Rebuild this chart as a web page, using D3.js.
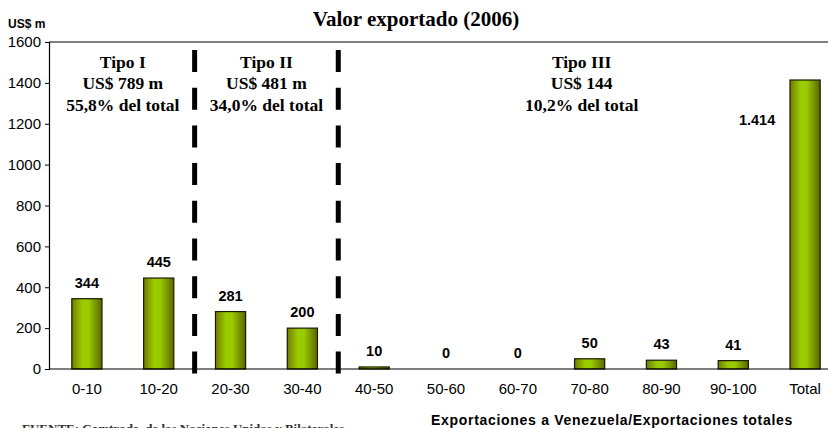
<!DOCTYPE html>
<html lang="es">
<head>
<meta charset="utf-8">
<title>Valor exportado (2006)</title>
<script src="https://cdn.jsdelivr.net/npm/d3@7"></script>
<style>
  body { margin: 0; background: #fff; }
  svg { display: block; }
  .serif { font-family: "Liberation Serif", "DejaVu Serif", serif; font-weight: bold; }
  .sans { font-family: "Liberation Sans", Arial, sans-serif; }
</style>
</head>
<body>
<script>
// data
var categories = ["0-10", "10-20", "20-30", "30-40", "40-50", "50-60", "60-70", "70-80", "80-90", "90-100", "Total"];
var values = [344, 445, 281, 200, 10, 0, 0, 50, 43, 41, 1414];
var valueLabels = ["344", "445", "281", "200", "10", "0", "0", "50", "43", "41", "1.414"];
var yTicks = [0, 200, 400, 600, 800, 1000, 1200, 1400, 1600];
var groups = [
  { from: "0-10", to: "10-20", lines: ["Tipo I", "US$ 789 m", "55,8% del total"] },
  { from: "20-30", to: "30-40", lines: ["Tipo II", "US$ 481 m", "34,0% del total"] },
  { from: "60-70", to: "80-90", lines: ["Tipo III", "US$ 144", "10,2% del total"] }
];
var dividers = ["20-30", "40-50"];

var width = 828, height = 428;
var svg = d3.select("body").append("svg").attr("width", width).attr("height", height);

var x = d3.scaleBand().domain(categories).range([51, 841]).paddingInner(0.58).paddingOuter(0.29);
var y = d3.scaleLinear().domain([0, 1600]).range([369, 42]);

var grad = svg.append("defs").append("linearGradient").attr("id", "barGrad")
  .attr("x1", "0%").attr("x2", "100%").attr("y1", "0%").attr("y2", "0%");
grad.append("stop").attr("offset", "0%").attr("stop-color", "#6f7d00");
grad.append("stop").attr("offset", "35%").attr("stop-color", "#9acc00");
grad.append("stop").attr("offset", "55%").attr("stop-color", "#99cc00");
grad.append("stop").attr("offset", "100%").attr("stop-color", "#5b6600");

// title
svg.append("text").attr("class", "serif").attr("x", 416).attr("y", 26)
  .attr("text-anchor", "middle").attr("font-size", 21).text("Valor exportado (2006)");
svg.append("text").attr("class", "sans").attr("x", 8).attr("y", 28)
  .attr("font-size", 12).attr("font-weight", "bold").text("US$ m");

// top border
svg.append("line").attr("x1", 49).attr("x2", width).attr("y1", y(1600)).attr("y2", y(1600))
  .attr("stroke", "#000").attr("stroke-width", 1.2);

// y axis
var yAxis = svg.append("g").attr("transform", "translate(49,0)")
  .call(d3.axisLeft(y).tickValues(yTicks).tickSize(4).tickPadding(4).tickFormat(d3.format("d")));
yAxis.select(".domain").attr("stroke", "#000").attr("stroke-width", 1.2);
yAxis.selectAll("text").attr("class", "sans").attr("font-size", 15).attr("fill", "#000");

// bars
svg.selectAll("rect.bar").data(categories).enter().append("rect")
  .attr("class", "bar")
  .attr("x", function(d) { return x(d); })
  .attr("width", x.bandwidth())
  .attr("y", function(d, i) { return y(values[i]); })
  .attr("height", function(d, i) { return y(0) - y(values[i]); })
  .attr("fill", "url(#barGrad)")
  .attr("stroke", "#1a1a00").attr("stroke-width", 1.2);

// value labels
svg.selectAll("text.val").data(categories).enter().append("text")
  .attr("class", "val sans")
  .attr("font-size", 14.5).attr("font-weight", "bold").attr("text-anchor", "middle")
  .attr("x", function(d) { return d === "Total" ? x(d) + x.bandwidth() / 2 - 48 : x(d) + x.bandwidth() / 2; })
  .attr("y", function(d, i) { return d === "Total" ? y(values[i]) + 45 : y(values[i]) - 11; })
  .text(function(d, i) { return valueLabels[i]; });

// x axis
svg.append("line").attr("x1", 49).attr("x2", width).attr("y1", y(0)).attr("y2", y(0))
  .attr("stroke", "#000").attr("stroke-width", 1.2);
svg.selectAll("text.cat").data(categories).enter().append("text")
  .attr("class", "cat sans").attr("font-size", 15).attr("text-anchor", "middle")
  .attr("x", function(d) { return x(d) + x.bandwidth() / 2; })
  .attr("y", 394).text(function(d) { return d; });

svg.append("text").attr("class", "sans").attr("x", 612).attr("y", 425)
  .attr("font-size", 14).attr("font-weight", "bold").attr("text-anchor", "middle")
  .attr("letter-spacing", 0.7).text("Exportaciones a Venezuela/Exportaciones totales");

// dashed dividers
svg.selectAll("line.div").data(dividers).enter().append("line")
  .attr("x1", function(d) { return x(d) - x.step() * x.paddingInner() / 2; })
  .attr("x2", function(d) { return x(d) - x.step() * x.paddingInner() / 2; })
  .attr("y1", 50).attr("y2", 374)
  .attr("stroke", "#000").attr("stroke-width", 5).attr("stroke-dasharray", "22,15.7");

// group annotations
groups.forEach(function(g) {
  var cx = (x(g.from) + x(g.to) + x.bandwidth()) / 2;
  if (g.lines[0] === "Tipo III") cx -= 8;
  g.lines.forEach(function(t, i) {
    svg.append("text").attr("class", "serif").attr("font-size", 17.5)
      .attr("text-anchor", "middle").attr("x", cx).attr("y", 68 + i * 21.3).text(t);
  });
});

// source note (cut off at bottom in the original)
svg.append("text").attr("class", "serif").attr("x", 22).attr("y", 433)
  .attr("font-size", 13).attr("fill", "#333").text("FUENTE: Comtrade, de las Naciones Unidas y Bilaterales");
</script>
</body>
</html>
